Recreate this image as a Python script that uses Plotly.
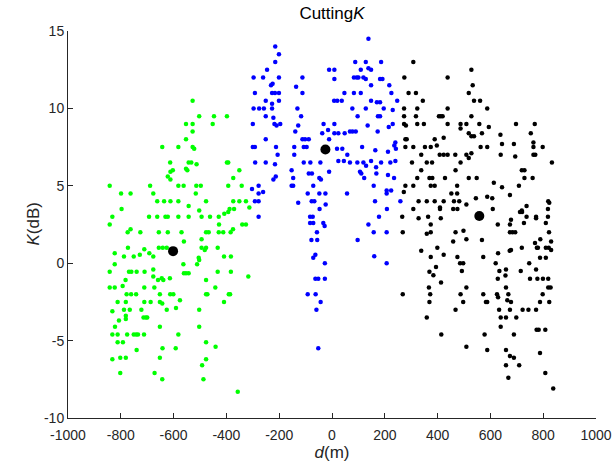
import plotly.graph_objects as go

# ---------------- data (d in m, K in dB) ----------------
green_d = [-528,-503,-447,-398,-553,-528,-452,-528,-553,-643,-582,-528,-522,-613,-543,-533,-513,-398,-393,
    -603,-612,-553,-548,-622,-612,-374,-351,
    -842,-689,-582,-562,-514,-497,-393,-342,
    -799,-763,-677,-516,
    -662,-636,-612,-582,-477,-374,-351,-326,
    -543,-797,-503,-388,-371,-313,
    -832,-693,-662,-631,-622,-582,-543,-494,-462,-429,-408,-393,
    -842,-428,-340,-326,
    -763,-774,-726,-656,-622,-570,-477,-467,-429,-412,-384,-375,
    -561,-494,
    -823,-773,-711,-728,-751,-788,-692,-677,-656,-641,-626,-494,-477,-482,-433,-409,-383,
    -505,-503,-511,-823,-563,
    -842,-769,-760,-740,-710,-677,-561,-553,-543,-433,-383,
    -677,-645,-639,-659,-614,-782,-477,-317,
    -842,-823,-793,-711,-673,-442,
    -778,-761,-742,-652,-613,-601,-477,-472,-391,-386,-576,
    -812,-781,-711,-687,-652,-643,-409,-591,
    -832,-788,-766,-722,-626,-503,-781,-807,-781,-714,-705,-700,
    -822,-652,-503,
    -832,-812,-776,-751,-742,-735,-712,-582,
    -812,-792,-477,-441,-740,-642,-592,
    -832,-802,-781,-652,-477,-492,-802,-672,-643,-487,-357]
green_k = [10.5,9.5,9.5,9.5,9,9,9,8.5,8,7.5,7.5,7.5,7.4,6.5,6.5,6.5,6.4,6.5,6.5,
    6,5.9,6.1,6,5.6,5.4,5.5,6,
    5,5,5,5,5,5,5,5,
    4.5,4.5,4.5,4.5,
    4,4,4,4,4,4,4,4,
    3.7,3.5,3.4,3.5,3.5,3.6,
    3,3,3,3,3,3,3,3,3,3,3.2,3.3,
    2.5,2.5,2.5,2.5,
    2.2,2,2,2,2,2,2,2,2,2,2,2.2,
    1.4,1.55,
    0.65,1,0.9,0.55,0.43,0.43,0.65,0.43,1,1,1,1,1,0.85,1,0.43,0.43,
    0.35,0.2,-0.06,-0.06,-0.06,
    -0.56,-0.56,-0.56,-0.56,-0.56,-0.4,-0.65,-0.65,-0.65,-0.56,-0.56,
    -0.86,-0.97,-1.08,-1.08,-0.97,-1.08,-1.08,-0.86,
    -1.57,-1.57,-1.47,-1.57,-1.57,-1.57,
    -2,-2,-2,-2,-2,-2,-2,-2,-2,-2,-2.4,
    -2.5,-2.5,-2.5,-2.5,-2.5,-2.6,-2.5,-2.9,
    -3.1,-3,-3,-3,-3,-3,-3.4,-3.7,-3.6,-3.5,-3.5,-3.5,
    -4.1,-4.1,-4.1,
    -4.6,-4.6,-4.6,-4.6,-4.6,-4.6,-4.6,-4.6,
    -5.1,-5.1,-5.1,-5.4,-5.6,-5.5,-5.5,
    -6.2,-6.1,-6.1,-6.1,-6.2,-6.6,-7.1,-7.1,-7.5,-7.5,-8.3]

blue_d = [-291,
    138,-215,-201,-215,88,128,186,-246,-11,9,109,138,148,
    -297,-261,-201,-112,9,83,94,100,119,128,182,191,
    -225,-231,148,217,-136,
    -292,-227,-216,-201,-112,83,109,225,47,
    -251,-201,8,20,37,148,170,182,247,-227,
    -297,-276,-258,-227,-131,77,128,196,230,
    -251,-222,-117,97,174,182,
    -300,-218,-210,-196,-128,-32,9,135,215,230,
    -139,-37,-15,9,24,48,68,78,90,173,
    -251,-112,-102,-88,-11,240,236,
    -300,-292,-212,-143,-107,-96,19,39,114,164,212,242,58,-143,-206,
    -251,-216,-107,-82,-44,24,45,68,96,119,148,186,221,240,
    129,167,
    -153,-88,-76,-11,106,111,168,-213,-222,-147,-48,-42,122,212,235,
    -278,-153,-147,-71,158,
    -303,
    -278,-261,-92,-48,-25,57,207,207,224,
    -292,-278,-128,-77,-67,-24,163,259,
    -47,208,
    -278,-83,-73,178,
    -83,-71,-33,-28,138,
    -57,158,207,
    -78,-56,97,
    -63,-71,160,
    -27,207,
    -63,-52,-27,
    -92,-62,-43,-59,-52]
blue_k = [6.5,
    14.5,14,13.5,13,13,13,13,12.5,12.5,12.5,12.5,12.6,12.5,
    12,12,12,12,11.9,12,12,12,12,11.9,11.9,11.9,
    11.6,11.5,11.5,11.5,11.4,
    11,11,11,11,11,11,11,11,11,
    10.5,10.5,10.5,10.5,10.5,10.5,10.4,10.4,10.5,10.3,
    10,10,10,10,10,10,10,10,9.9,
    9.5,9.4,9.5,9.5,9.5,9.5,
    9,9,8.9,9,8.9,9,9,8.9,8.8,9,
    8.5,8.4,8.6,8.4,8.4,8.4,8.5,8.5,8.5,8.5,
    8,8,8,8,8,7.8,7.6,
    7.5,7.5,7.5,7.5,7.5,7.5,7.4,7.4,7.5,7.3,7.2,7.4,7,7,7,
    6.5,6.4,6.5,6.5,6.5,6.6,6.6,6.5,6.5,6.5,6.6,6.5,6.5,6.6,
    6.3,6.2,
    6,5.8,5.8,5.9,5.9,5.8,5.8,5.6,5.4,5.5,5.5,5.4,5.5,5.7,5.5,
    5,5,5,5,5,
    4.8,
    4.5,4.6,4.5,4.5,4.5,4.5,4.7,4.5,4.7,
    4,4,3.9,4,4,3.8,4,4,
    3.5,3.5,
    3,3,3,3,
    2.6,2.6,2.6,2.4,2.5,
    2,2,2,
    1.5,1.5,1.5,
    0.55,0.35,0.45,
    0,0,
    -1,-1,-1,
    -2,-2,-2.5,-3,-5.5]

black_d = [274,290,273,273,273,280,278,283,
    308,438,528,533,318,518,538,561,344,323,438,588,318,405,412,419,528,
    323,348,438,487,487,509,558,594,697,768,518,528,538,568,638,753,
    389,423,397,278,308,352,374,338,563,588,644,689,763,763,798,
    408,423,438,467,509,518,528,639,694,763,770,303,359,379,487,833,
    278,272,266,268,
    338,468,323,369,380,428,518,548,719,729,729,760,308,374,389,474,613,644,708,
    452,474,588,607,674,545,328,359,389,423,462,482,509,819,823,
    308,409,409,459,475,609,737,719,712,720,818,
    328,364,412,678,737,773,773,818,727,810,374,628,674,
    359,374,468,498,674,684,694,822,459,509,568,789,769,780,830,
    338,399,374,423,475,573,629,673,678,719,776,810,821,830,788,810,
    485,497,620,747,394,369,384,492,634,659,715,773,657,628,750,778,799,819,
    413,367,509,659,819,828,
    268,
    372,487,573,625,629,668,798,369,497,583,588,664,678,788,823,
    468,633,674,722,744,773,359,639,659,698,639,775,783,808,
    414,578,689,509,588,659,788,674,689,659,709,808,668,838]
black_k = [12,11,10,9.5,9,8.9,8,8,
    13,12,12.5,11.5,11,11,10.5,10.5,10.5,10,10,10,9.5,9.5,9.5,9.5,9.5,
    9,9,9,9,8.7,9,9,8.8,9,9,8.4,8.2,8.2,8.4,8.3,8.4,
    8,8.1,7.6,7.5,7.5,7.5,7.5,7,7.5,7.5,7.7,7.7,7.8,7.5,7.5,
    7,7,7,7,7,6.8,7.1,7,6.9,7,7,6.5,6.5,6.5,6.5,6.5,
    5,4.6,3,2,
    6,6,5.5,5.5,5.5,5.5,5.5,5.5,6,6,5.5,5.5,5,5,5,5,5.2,4.9,5,
    4.5,4.5,4.3,4.2,4.4,4.2,4,4,4,4,4,4,3.8,4,3.9,
    3.5,3.6,3.5,3.5,3.5,3.5,3.7,3.4,3.3,3.3,3.5,
    2.9,3,2.9,2.8,3,3,2.9,3,2.6,2.6,2.5,2.5,2.5,
    1.9,2,2,2.1,2,2,2,2,1.4,1.55,1.5,1.55,1.3,1,1.4,
    0.8,1,0.4,0.55,0.4,0.4,0.65,0.8,0.85,1,1,1,1,0.85,0.35,0.35,
    0,0,0,0,-0.25,-0.56,-0.78,-0.5,-0.5,-0.4,-0.5,-0.4,-0.8,-1,-1,-1,-1,-1,
    -1.25,-1.57,-1.57,-1.57,-1.57,-1.57,
    -2,
    -2,-2,-2,-2,-2.2,-2,-2,-2.5,-2.5,-2.5,-2.5,-2.4,-2.5,-2.5,-2.5,
    -3,-3,-3,-3,-3,-3,-3.5,-3.5,-3.5,-3.5,-4.1,-4.3,-4.3,-4.3,
    -4.6,-4.6,-4.6,-5.4,-5.6,-5.6,-5.8,-6,-6.1,-6.6,-6.6,-7.1,-7.4,-8.1]

centroid_d = [-602, -25, 558]
centroid_k = [0.78, 7.35, 3.05]

x_ticks = list(range(-1000, 1001, 200))
y_ticks = [-10, -5, 0, 5, 10, 15]

# ---------------- figure ----------------
fig = go.Figure()
for xs, ys, col in [(green_d, green_k, "#00ff00"), (blue_d, blue_k, "#0000ff"), (black_d, black_k, "#000000")]:
    fig.add_trace(go.Scatter(x=xs, y=ys, mode="markers",
                             marker=dict(color=col, size=4.5, line=dict(width=0)),
                             showlegend=False, hoverinfo="x+y"))
fig.add_trace(go.Scatter(x=centroid_d, y=centroid_k, mode="markers",
                         marker=dict(color="#000000", size=10, line=dict(width=0)),
                         showlegend=False))

axis_col = "#262626"
fig.update_layout(
    width=613, height=475,
    paper_bgcolor="white", plot_bgcolor="white",
    margin=dict(l=68, r=17, t=31, b=57, autoexpand=False),
    font=dict(family="Liberation Sans, Arial, sans-serif", size=14, color=axis_col),
    title=dict(text="Cutting<i>K</i>", x=0.5, xanchor="center", xref="paper",
               y=1 - 13 / 475, yref="container", yanchor="middle",
               font=dict(size=17, color="#000000")),
    xaxis=dict(range=[-1000, 1000], tickvals=x_ticks, ticktext=[str(v) for v in x_ticks],
               showgrid=False, zeroline=False, showline=True, linecolor=axis_col, linewidth=1,
               ticks="inside", ticklen=5, tickcolor=axis_col, mirror=False,
               ticklabelstandoff=4,
               title=dict(text="<i>d</i>(m)", standoff=4, font=dict(size=17))),
    yaxis=dict(range=[-10, 15], tickvals=y_ticks, ticktext=[str(v) for v in y_ticks],
               showgrid=False, zeroline=False, showline=True, linecolor=axis_col, linewidth=1,
               ticks="inside", ticklen=5, tickcolor=axis_col, mirror=False),
    annotations=[dict(text="<i>K</i>(dB)", xref="paper", yref="paper",
                      x=(33 - 68) / 528, y=0.5, xanchor="center", yanchor="middle",
                      textangle=-90, showarrow=False, font=dict(size=17, color=axis_col))],
)
fig.write_html("out.html", config={"displayModeBar": False},
               post_script="document.body.style.margin='0px';")
